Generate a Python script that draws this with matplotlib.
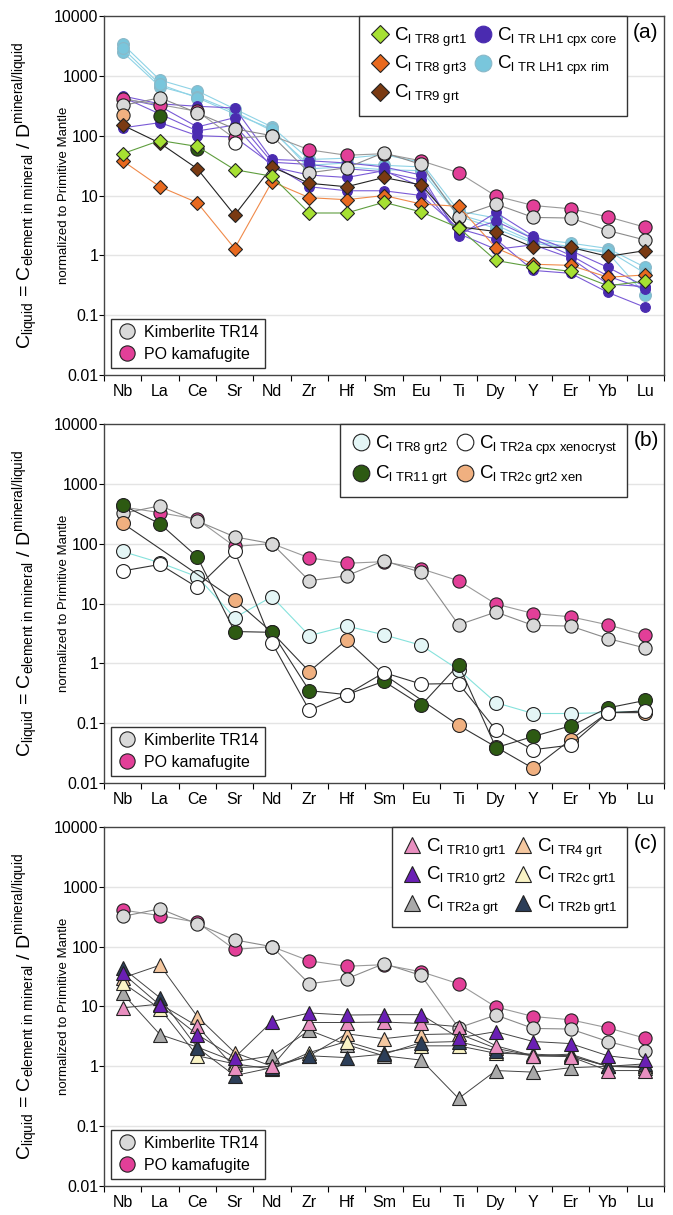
import numpy as np
import matplotlib
matplotlib.use("Agg")
import matplotlib.pyplot as plt
from matplotlib.lines import Line2D
from matplotlib.ticker import NullLocator

plt.rcParams['font.family'] = ['Liberation Sans', 'DejaVu Sans']
plt.rcParams['mathtext.fontset'] = 'custom'
plt.rcParams['mathtext.rm'] = 'Liberation Sans'
plt.rcParams['mathtext.it'] = 'Liberation Sans:italic'
plt.rcParams['mathtext.bf'] = 'Liberation Sans:bold'
plt.rcParams['mathtext.default'] = 'regular'

nan = np.nan
elements = ["Nb", "La", "Ce", "Sr", "Nd", "Zr", "Hf", "Sm", "Eu", "Ti", "Dy", "Y", "Er", "Yb", "Lu"]
ytick_values = [0.01, 0.1, 1, 10, 100, 1000, 10000]
ytick_labels = ["0.01", "0.1", "1", "10", "100", "1000", "10000"]

# reference melts (all panels)
kimberlite_tr14 = [320, 430, 240, 130, 100, 24, 29, 52, 33, 4.4, 7.2, 4.3, 4.2, 2.6, 1.8]
po_kamafugite = [410, 330, 255, 90, 100, 58, 47, 50, 38, 24, 9.8, 6.8, 6.0, 4.4, 2.95]

# panel (a): calculated liquids
tr8_grt1 = [50, 83, 66, 27, 21, 5.1, 5.1, 7.7, 5.3, 2.9, 0.82, 0.64, 0.54, 0.31, 0.37]
tr8_grt3 = [38, 14, 7.6, 1.3, 17, 9.2, 8.5, 10, 7.2, 6.6, 1.33, 0.71, 0.68, 0.43, 0.47]
tr9_grt = [150, 75, 28, 4.7, 30, 16, 14, 20, 15, 3.0, 2.5, 1.36, 1.36, 0.96, 1.2]
lh1_core_1 = [460, 340, 310, 290, 40, 38, 35, 30, 22, 2.1, 5.2, 2.1, 1.2, 0.63, 0.3]
lh1_core_2 = [420, 310, 140, 200, 36, 33, 28, 25, 18, 2.4, 3.7, 1.9, 1.0, 0.45, 0.27]
lh1_core_3 = [135, 165, 100, 95, 33, 14, 12, 12, 10, 2.8, 1.86, 0.56, 0.5, 0.24, 0.135]
lh1_core_4 = [440, 230, 120, 150, 30, 22, 20, 26, 14, 2.3, 1.26, 1.5, 0.9, 0.33, 0.3]
lh1_rim_1 = [3400, 850, 560, 280, 140, 40, 42, 48, 36, 5.5, 4.2, 1.9, 1.6, 1.3, 0.63]
lh1_rim_2 = [2500, 660, 450, 250, 120, 32, 35, 32, 30, 4.8, 3.2, 1.7, 1.4, 1.1, 0.22]
lh1_rim_3 = [2900, 720, 430, 230, 130, 28, 30, 27, 26, 4.5, 2.8, 1.6, 1.3, 1.2, 0.5]

# panel (b)
tr8_grt2 = [74, 48, 28, 5.8, 13, 2.9, 4.2, 3.0, 2.0, 0.78, 0.22, 0.145, 0.145, 0.15, 0.16]
tr11_grt = [440, 215, 60, 3.4, 3.3, 0.35, 0.3, 0.5, 0.2, 0.95, 0.039, 0.06, 0.09, 0.18, 0.24]
tr2a_cpx_xeno = [35, 45, 18.6, 75, 2.2, 0.165, 0.3, 0.7, 0.45, 0.46, 0.077, 0.036, 0.043, 0.15, 0.16]
tr2c_grt2_xen = [220, nan, nan, 11.5, 3.3, 0.73, 2.45, 0.65, nan, 0.092, 0.04, 0.0175, 0.053, 0.15, 0.15]

# panel (c)
tr10_grt1 = [9.5, 11, 4.7, 0.95, 1.0, 5.4, 5.4, 5.5, 5.2, 4.6, 2.2, 1.5, 1.45, 0.85, 0.85]
tr10_grt2 = [36, 10.5, 3.4, 1.4, 5.6, 7.8, 7.2, 7.3, 7.3, 3.0, 3.8, 2.6, 2.4, 1.5, 1.27]
tr2a_grt = [16.5, 3.4, 2.1, 1.2, 1.5, 4.0, 2.3, 1.5, 1.27, 0.29, 0.85, 0.8, 0.95, 1.0, 1.0]
tr4_grt = [30, 49, 6.8, 1.7, 1.0, 1.5, 3.5, 2.9, 3.4, 3.5, 2.0, 1.5, 1.6, 1.0, 1.0]
tr2c_grt1 = [25, 9.2, 1.5, 1.1, 0.9, 1.7, 2.6, 1.7, 2.2, 2.2, 1.65, 1.6, 1.5, 1.0, 0.95]
tr2b_grt1 = [44, 14, 2.05, 0.7, 0.95, 1.5, 1.4, 1.6, 2.5, 2.6, 1.8, 1.5, 1.5, 1.0, 1.1]

EDGE = "#222222"
x = np.arange(len(elements))


def draw(ax, vals, marker, face, line, ms, z, lw=0.8, mec=EDGE, idx=None, join=True):
    v = np.asarray(vals, float)
    ok = ~np.isnan(v)
    if idx is not None:
        sel = np.zeros_like(ok)
        sel[idx] = True
        ok &= sel
    ax.plot(x[ok], v[ok], color=line, lw=lw if join else 0, ls='-' if join else 'none',
            marker=marker, ms=ms, mfc=face, mec=mec, mew=0.8, zorder=z)


def setup(ax, tag):
    ax.set_yscale('log')
    ax.set_ylim(0.01, 10000)
    ax.set_xlim(-0.5, len(elements) - 0.5)
    ax.set_yticks(ytick_values)
    ax.set_yticklabels(ytick_labels)
    ax.yaxis.set_minor_locator(NullLocator())
    ax.set_xticks(x)
    ax.set_xticklabels(elements)
    ax.set_xticks(np.arange(-0.5, len(elements), 1), minor=True)
    ax.tick_params(axis='x', which='major', length=0, pad=6.5, labelsize=11.5)
    ax.tick_params(axis='x', which='minor', length=4, direction='out', width=0.8)
    ax.tick_params(axis='y', which='major', length=3.5, pad=0.5, labelsize=11.5, width=0.8)
    for yv in ytick_values[1:-1]:
        ax.axhline(yv, color='#e4e4e4', lw=1.0, zorder=0)
    for s in ax.spines.values():
        s.set_color('#444444')
        s.set_linewidth(1.0)
    ax.text(0.968, 0.953, tag, transform=ax.transAxes, ha='center', va='center', fontsize=15)
    ax.text(-0.139, 0.5, r'$C_{liquid}$ = $C_{element\ in\ mineral}$ / $D^{mineral/liquid}$',
            transform=ax.transAxes, rotation=90, ha='center', va='center', fontsize=14)
    ax.text(-0.072, 0.5, 'normalized to Primitive Mantle', transform=ax.transAxes,
            rotation=90, ha='center', va='center', fontsize=9.5)


def reference(ax):
    draw(ax, po_kamafugite, 'o', '#e23f98', '#9a9a9a', 9.5, 4)
    draw(ax, kimberlite_tr14, 'o', '#d9d9d9', '#8a8a8a', 9.5, 4.1)
    handles = [Line2D([], [], ls='none', marker='o', ms=11, mfc='#d9d9d9', mec=EDGE, mew=0.8),
               Line2D([], [], ls='none', marker='o', ms=11, mfc='#e23f98', mec=EDGE, mew=0.8)]
    leg = ax.legend(handles, ['Kimberlite TR14', 'PO kamafugite'], loc='lower left',
                    bbox_to_anchor=(0.0125, 0.019), fontsize=11.5, frameon=True, fancybox=False,
                    edgecolor='#333333', framealpha=1, borderpad=0.4, handletextpad=0.45,
                    handlelength=1.2, labelspacing=0.42, borderaxespad=0)
    leg.get_frame().set_linewidth(1.0)
    leg.set_zorder(20)
    ax.add_artist(leg)


def top_legend(ax, handles, labels, spacing=0.26):
    leg = ax.legend(handles, labels, loc='upper right', bbox_to_anchor=(0.934, 1.0), ncol=2,
                    fontsize=13.5, frameon=True, fancybox=False, edgecolor='#333333', framealpha=1,
                    borderpad=0.5, handletextpad=0.15, handlelength=1.2, columnspacing=0.3,
                    labelspacing=spacing, borderaxespad=0)
    leg.get_frame().set_linewidth(1.0)
    leg.set_zorder(20)


def mk(marker, face, ms, mec=EDGE):
    return Line2D([], [], ls='none', marker=marker, ms=ms, mfc=face, mec=mec, mew=0.8)


fig = plt.figure(figsize=(6.73, 12.15), dpi=100)
left, width = 0.1545, 0.832
H = 1215.0
ax_a = fig.add_axes([left, 1 - 375 / H, width, 359 / H])
ax_b = fig.add_axes([left, 1 - 783 / H, width, 359 / H])
ax_c = fig.add_axes([left, 1 - 1186 / H, width, 359 / H])

# ---- (a) ----
setup(ax_a, '(a)')
rim_face, rim_line = '#79c6dc', '#8fd3e6'
core_face, core_line = '#4a2bb0', '#7a5ad6'
for s in (lh1_rim_1, lh1_rim_2, lh1_rim_3):
    draw(ax_a, s, 'o', rim_face, rim_line, 8.5, 2, mec='#8ab8c8')
for s in (lh1_core_1, lh1_core_2, lh1_core_3, lh1_core_4):
    draw(ax_a, s, 'o', core_face, core_line, 7.0, 3, mec='#4a2bb0')
reference(ax_a)
draw(ax_a, tr2c_grt2_xen, 'o', '#f0b080', 'none', 9.5, 5, idx=[0], join=False)
draw(ax_a, tr11_grt, 'o', '#2d5a12', 'none', 9.5, 5, idx=[1, 2], join=False)
draw(ax_a, tr2a_cpx_xeno, 'o', '#ffffff', 'none', 9.5, 5, idx=[3], join=False)
draw(ax_a, tr8_grt3, 'D', '#e8691e', '#f08a4a', 7.6, 6)
draw(ax_a, tr9_grt, 'D', '#7a3a12', '#222222', 7.6, 7)
draw(ax_a, tr8_grt1, 'D', '#a6e032', '#5f9e3e', 7.6, 8)
top_legend(ax_a,
           [mk('D', '#a6e032', 9), mk('D', '#e8691e', 9), mk('D', '#7a3a12', 9),
            mk('o', core_face, 12, mec=core_face), mk('o', rim_face, 12, mec='#8ab8c8')],
           [r'$C_{l\ TR8\ grt1}$', r'$C_{l\ TR8\ grt3}$', r'$C_{l\ TR9\ grt}$',
            r'$C_{l\ TR\ LH1\ cpx\ core}$', r'$C_{l\ TR\ LH1\ cpx\ rim}$'], spacing=0.3)

# ---- (b) ----
setup(ax_b, '(b)')
reference(ax_b)
draw(ax_b, tr8_grt2, 'o', '#e4f6f6', '#86e2dc', 10, 5)
draw(ax_b, tr2c_grt2_xen, 'o', '#f0b080', '#333333', 10, 5.5)
draw(ax_b, tr11_grt, 'o', '#2d5a12', '#333333', 10, 6)
draw(ax_b, tr2a_cpx_xeno, 'o', '#ffffff', '#333333', 10, 6.5)
top_legend(ax_b,
           [mk('o', '#e4f6f6', 12), mk('o', '#2d5a12', 12), mk('o', '#ffffff', 12),
            mk('o', '#f0b080', 12)],
           [r'$C_{l\ TR8\ grt2}$', r'$C_{l\ TR11\ grt}$',
            r'$C_{l\ TR2a\ cpx\ xenocryst}$', r'$C_{l\ TR2c\ grt2\ xen}$'], spacing=0.4)

# ---- (c) ----
setup(ax_c, '(c)')
reference(ax_c)
tri = [(tr2a_grt, '#a9a9a9'), (tr4_grt, '#f5c8a0'), (tr2c_grt1, '#faf4c6'),
       (tr2b_grt1, '#2c3e58'), (tr10_grt1, '#e98fc0'), (tr10_grt2, '#6a1fb4')]
for i, (s, c) in enumerate(tri):
    draw(ax_c, s, '^', c, '#444444', 10.5, 5 + 0.1 * i, lw=0.7)
top_legend(ax_c,
           [mk('^', '#e98fc0', 12), mk('^', '#6a1fb4', 12), mk('^', '#a9a9a9', 12),
            mk('^', '#f5c8a0', 12), mk('^', '#faf4c6', 12), mk('^', '#2c3e58', 12)],
           [r'$C_{l\ TR10\ grt1}$', r'$C_{l\ TR10\ grt2}$', r'$C_{l\ TR2a\ grt}$',
            r'$C_{l\ TR4\ grt}$', r'$C_{l\ TR2c\ grt1}$', r'$C_{l\ TR2b\ grt1}$'], spacing=0.3)

fig.savefig('out.png', dpi=100)
